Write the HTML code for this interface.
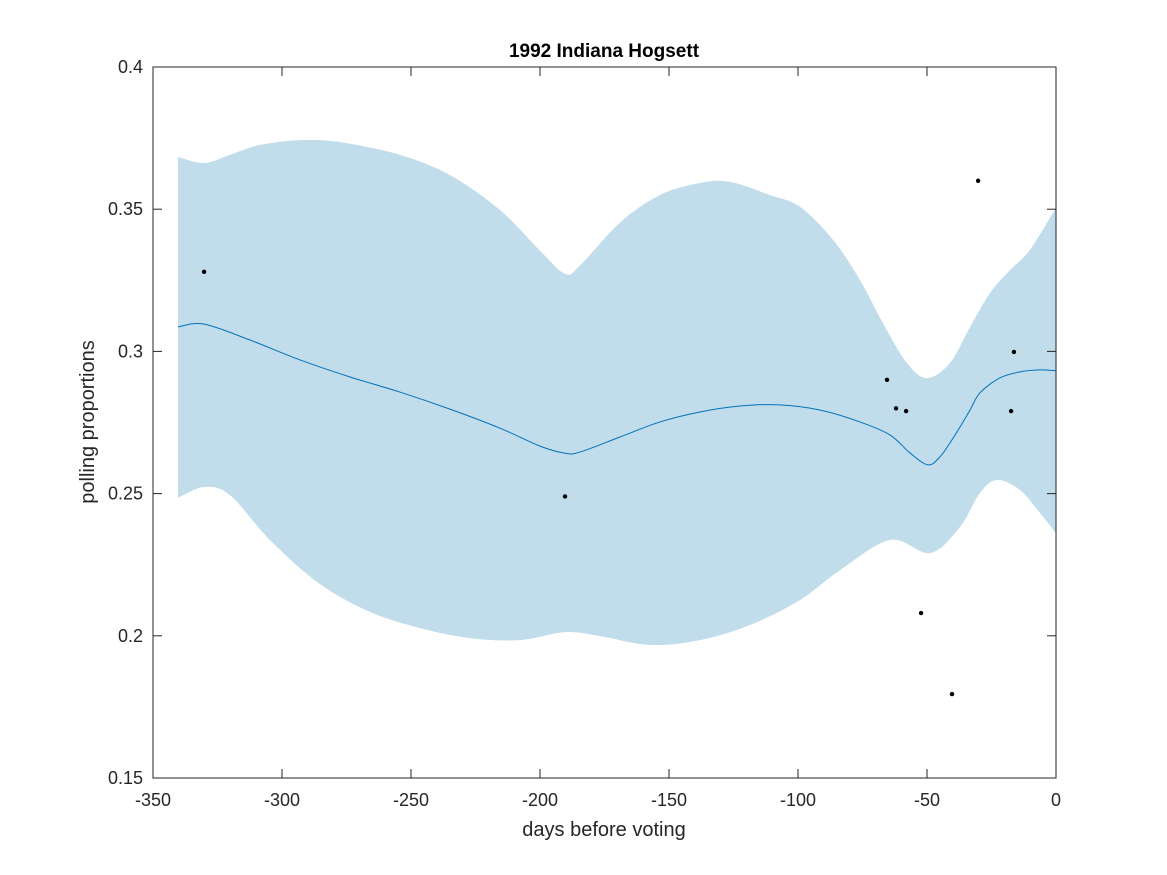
<!DOCTYPE html>
<html><head><meta charset="utf-8"><style>
body{margin:0;background:#fff;}
svg{display:block;font-family:"Liberation Sans",Arial,sans-serif;}
</style></head><body>
<svg id="chart" width="1167" height="875"></svg>
<script>
const bandDays=[-340.3,-330.2,-320.2,-308.5,-293.0,-277.5,-254.3,-234.9,-215.5,-200.0,-190.3,-184.5,-169.0,-153.5,-138.0,-126.4,-110.9,-99.2,-86.4,-76.0,-67.1,-57.8,-50.0,-41.1,-33.3,-25.6,-17.8,-10.1,0];
const upperVals=[0.3684,0.3662,0.3691,0.3726,0.3743,0.3736,0.3691,0.3620,0.3497,0.3354,0.3273,0.3302,0.3453,0.3550,0.3592,0.3596,0.3550,0.3508,0.3392,0.3251,0.3100,0.2959,0.2906,0.2959,0.3086,0.3205,0.3286,0.3357,0.3505];
const lowerDays=[-340.3,-330.2,-320.2,-304.7,-285.3,-265.9,-246.5,-227.1,-207.8,-190.3,-176.7,-157.4,-138.0,-118.6,-99.2,-83.7,-64.3,-48.8,-37.2,-29.5,-22.9,-14.0,-6.2,0];
const lowerVals=[0.2485,0.2523,0.2495,0.2337,0.2182,0.2084,0.2027,0.1992,0.1985,0.2013,0.1999,0.1968,0.1985,0.2038,0.2126,0.2231,0.2337,0.2291,0.2383,0.2502,0.2548,0.2513,0.2432,0.2361];
const meanDays=[-340.3,-330.2,-312.4,-293.0,-273.6,-254.3,-234.9,-215.5,-200.0,-190.3,-184.5,-169.0,-153.5,-138.0,-122.5,-107.0,-91.5,-76.0,-64.3,-56.6,-49.6,-45.0,-41.1,-37.2,-33.3,-29.5,-21.7,-14.0,-6.2,0];
const meanVals=[0.3086,0.3096,0.3040,0.2970,0.2910,0.2857,0.2797,0.2730,0.2667,0.2642,0.2646,0.2699,0.2752,0.2787,0.2808,0.2812,0.2794,0.2752,0.2706,0.2643,0.2601,0.2629,0.2678,0.2734,0.2794,0.2854,0.2907,0.2928,0.2935,0.2932];
const pollDays=[-330.2,-190.3,-65.5,-62.0,-58.1,-52.3,-40.3,-30.2,-16.3,-17.4];
const pollVals=[0.328,0.249,0.290,0.280,0.279,0.208,0.1795,0.360,0.2998,0.279];
const xTicks=[-350,-300,-250,-200,-150,-100,-50,0];
const yTicks=[0.15,0.2,0.25,0.3,0.35,0.4];
const yTickLabels=["0.15","0.2","0.25","0.3","0.35","0.4"];

const L=153,R=1056,T=67,B=778;
const xs=d=>L+(d+350)/350*(R-L);
const ys=v=>B-(v-0.15)/0.25*(B-T);
const NS="http://www.w3.org/2000/svg";
const svg=document.getElementById('chart');
function mk(tag,attrs,parent){const e=document.createElementNS(NS,tag);for(const k in attrs)e.setAttribute(k,attrs[k]);(parent||svg).appendChild(e);return e;}
function smooth(pts,move){let d=move?`M${pts[0][0]},${pts[0][1]}`:`L${pts[0][0]},${pts[0][1]}`;
 for(let i=0;i<pts.length-1;i++){const p0=pts[Math.max(0,i-1)],p1=pts[i],p2=pts[i+1],p3=pts[Math.min(pts.length-1,i+2)];
 d+=` C${p1[0]+(p2[0]-p0[0])/6},${p1[1]+(p2[1]-p0[1])/6} ${p2[0]-(p3[0]-p1[0])/6},${p2[1]-(p3[1]-p1[1])/6} ${p2[0]},${p2[1]}`;}return d;}
const up=bandDays.map((d,i)=>[xs(d),ys(upperVals[i])]);
const lo=lowerDays.map((d,i)=>[xs(d),ys(lowerVals[i])]).reverse();
const band=mk('path',{d:smooth(up,true)+' '+smooth(lo,false)+' Z',fill:'#c1dcea',stroke:'none'});


const mp=meanDays.map((d,i)=>[xs(d),ys(meanVals[i])]);
const line=mk('path',{d:smooth(mp,true),fill:'none',stroke:'#0072bd','stroke-width':1});


pollDays.forEach((d,i)=>{const c=mk('circle',{cx:xs(d),cy:ys(pollVals[i]),r:2.2,fill:'#000'});

});
const box=mk('rect',{x:L,y:T,width:R-L,height:B-T,fill:'none',stroke:'#262626','stroke-width':1});


xTicks.forEach(t=>{const x=xs(t);
 mk('line',{x1:x,x2:x,y1:B,y2:B-9,stroke:'#262626'});mk('line',{x1:x,x2:x,y1:T,y2:T+9,stroke:'#262626'});
 const tx=mk('text',{x:x,y:B+28,'text-anchor':'middle','font-size':18,fill:'#262626'});tx.textContent=t;
 
 });
yTicks.forEach((t,i)=>{const y=ys(t);
 mk('line',{x1:L,x2:L+9,y1:y,y2:y,stroke:'#262626'});mk('line',{x1:R,x2:R-9,y1:y,y2:y,stroke:'#262626'});
 const tx=mk('text',{x:L-10,y:y+6,'text-anchor':'end','font-size':18,fill:'#262626'});tx.textContent=yTickLabels[i];
 
 });
const ti=mk('text',{x:604,y:57,'text-anchor':'middle','font-size':19,'font-weight':'bold',fill:'#000'});ti.textContent='1992 Indiana Hogsett';


const xl=mk('text',{x:604,y:836,'text-anchor':'middle','font-size':20,fill:'#262626'});xl.textContent='days before voting';


const yl=mk('text',{x:0,y:0,'text-anchor':'middle','font-size':20,fill:'#262626',transform:'translate(94,422) rotate(-90)'});yl.textContent='polling proportions';


</script>
</body></html>
